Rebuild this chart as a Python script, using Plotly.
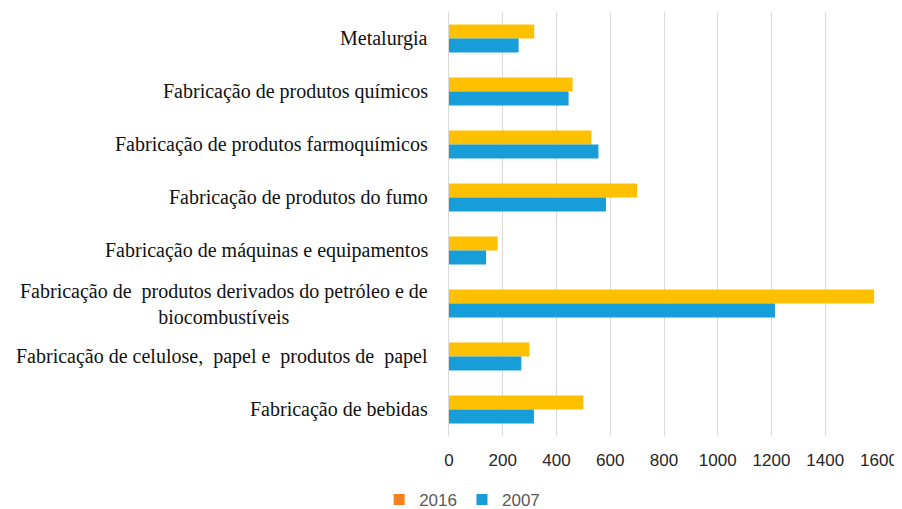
import plotly.graph_objects as go

categories = [
    "Metalurgia",
    "Fabricação de produtos químicos",
    "Fabricação de produtos farmoquímicos",
    "Fabricação de produtos do fumo",
    "Fabricação de máquinas e equipamentos",
    "Fabricação de  produtos derivados do petróleo e de<br>biocombustíveis",
    "Fabricação de celulose,  papel e  produtos de  papel",
    "Fabricação de bebidas",
]
values_2016 = [317, 460, 530, 700, 181, 1582, 299, 500]
values_2007 = [259, 445, 556, 584, 138, 1213, 269, 316]
x_ticks = [0, 200, 400, 600, 800, 1000, 1200, 1400, 1600]

YELLOW = "#FFC000"
BLUE = "#179DD8"
ORANGE = "#F58220"

fig = go.Figure()
fig.add_trace(go.Bar(y=categories, x=values_2016, orientation="h", name="2016",
                     marker=dict(color=YELLOW, line=dict(width=0)), showlegend=False))
fig.add_trace(go.Bar(y=categories, x=values_2007, orientation="h", name="2007",
                     marker=dict(color=BLUE, line=dict(width=0)), showlegend=False))
# legend entries
fig.add_trace(go.Scatter(y=[None], x=[None], mode="markers", name="2016",
                         marker=dict(color=ORANGE, symbol="square", size=11), showlegend=True))
fig.add_trace(go.Scatter(y=[None], x=[None], mode="markers", name="2007",
                         marker=dict(color=BLUE, symbol="square", size=11), showlegend=True))

for c in categories:
    fig.add_annotation(x=-0.044, xref="paper", y=c, yref="y", text=c,
                       showarrow=False, xanchor="right", yanchor="middle",
                       align="center",
                       font=dict(family="Liberation Serif", size=20, color="#111111"))

fig.update_layout(
    width=894, height=501,
    margin=dict(l=441, r=23, t=4, b=73, autoexpand=False),
    paper_bgcolor="white", plot_bgcolor="white",
    barmode="group", bargap=0.47, bargroupgap=0,
    showlegend=True,
    legend=dict(orientation="h", xref="container", yref="container",
                x=0.508, xanchor="center", y=0.018, yanchor="middle",
                font=dict(family="Liberation Sans", size=17, color="#595959"),
                traceorder="normal", itemwidth=30),
    xaxis=dict(range=[0, 1600], tickvals=x_ticks, showgrid=True, gridcolor="#D9D9D9",
               gridwidth=1, zeroline=False, showline=False, ticks="",
               ticklabelstandoff=12,
               tickfont=dict(family="Liberation Sans", size=17, color="#262626")),
    yaxis=dict(categoryorder="array", categoryarray=categories, autorange="reversed",
               showticklabels=False, showline=True, linecolor="#D9D9D9", linewidth=1,
               ticks=""),
)

fig.write_html("out.html")
